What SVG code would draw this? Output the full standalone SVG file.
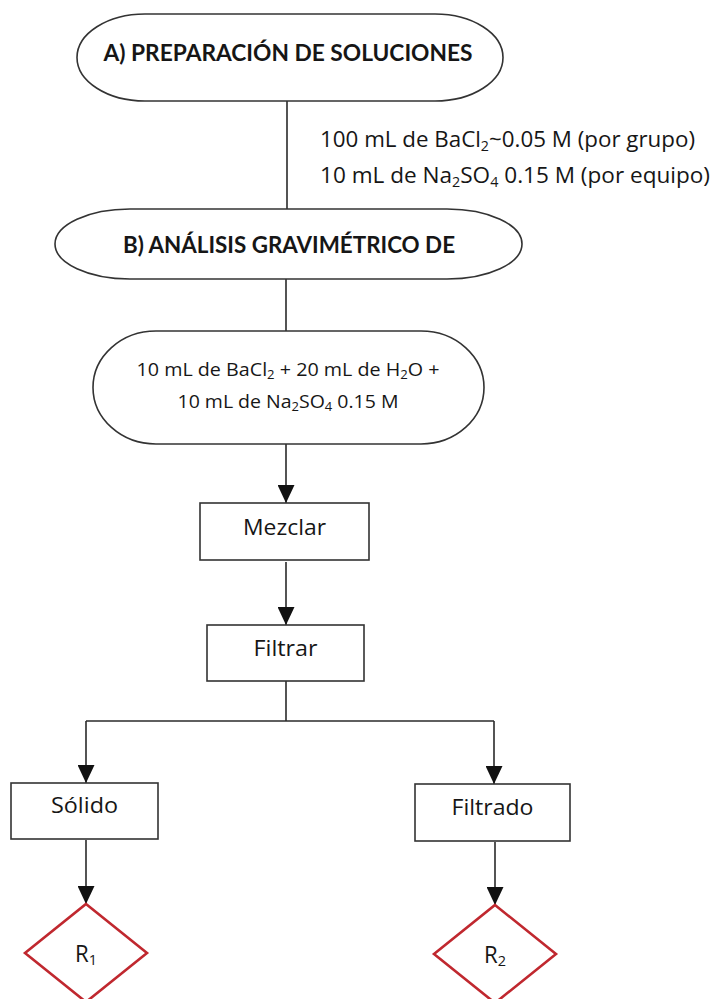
<svg xmlns="http://www.w3.org/2000/svg" width="714" height="999" viewBox="0 0 714 999">
  <style>
    .shape { fill: #ffffff; stroke: #333333; stroke-width: 1.6; }
    .result { fill: #ffffff; stroke: #c0282f; stroke-width: 2.6; }
    .wire { fill: none; stroke: #2a2a2a; stroke-width: 1.6; }
    .arrow { fill: none; stroke: #2a2a2a; stroke-width: 1.6; marker-end: url(#head); }
    text { font-family: "Open Sans", "Liberation Sans", Arial, sans-serif; fill: #161616; }
    .title { font-family: Lato, "Liberation Sans", Arial, sans-serif; font-size: 23px; font-weight: bold; text-anchor: middle; }
    .note { font-size: 22px; }
    .body { font-size: 18px; text-anchor: middle; }
    .label { font-size: 21px; text-anchor: middle; }
    .mark { font-size: 23px; text-anchor: middle; }
  </style>
  <defs>
    <marker id="head" markerUnits="userSpaceOnUse" markerWidth="18" markerHeight="17" refX="18" refY="8.5" orient="auto">
      <path d="M0,0 L18,8.5 L0,17 z" fill="#111111"/>
    </marker>
  </defs>

  <rect width="714" height="999" fill="#ffffff"/>

  <!-- connectors -->
  <g id="connectors">
    <line class="wire" x1="287" y1="101" x2="287" y2="209"/>
    <line class="wire" x1="286" y1="279" x2="286" y2="331"/>
    <line class="arrow" x1="286" y1="444" x2="286" y2="503"/>
    <line class="arrow" x1="286" y1="562" x2="286" y2="625"/>
    <polyline class="wire" points="286,681 286,721"/>
    <line class="wire" x1="86" y1="721" x2="494" y2="721"/>
    <line class="arrow" x1="86" y1="721" x2="86" y2="783"/>
    <line class="arrow" x1="494" y1="721" x2="494" y2="784"/>
    <line class="arrow" x1="86" y1="840" x2="86" y2="904"/>
    <line class="arrow" x1="495" y1="842" x2="495" y2="905"/>
  </g>

  <!-- A) solution preparation -->
  <g id="prep">
    <rect class="shape" x="77" y="14" width="426" height="87" rx="68" ry="43.5"/>
    <text class="title" x="288" y="61" textLength="369" lengthAdjust="spacingAndGlyphs">A) PREPARACIÓN DE SOLUCIONES</text>
  </g>

  <!-- quantities beside the first link -->
  <g id="quantities">
    <text class="note" x="320" y="147" textLength="375" lengthAdjust="spacingAndGlyphs">100 mL de BaCl<tspan font-size="14" dy="4">2</tspan><tspan dy="-4">~0.05 M (por grupo)</tspan></text>
    <text class="note" x="320" y="183" textLength="390" lengthAdjust="spacingAndGlyphs">10 mL de Na<tspan font-size="14" dy="4">2</tspan><tspan dy="-4">SO</tspan><tspan font-size="14" dy="4">4</tspan><tspan dy="-4"> 0.15 M (por equipo)</tspan></text>
  </g>

  <!-- B) gravimetric analysis -->
  <g id="analysis">
    <rect class="shape" x="55" y="209" width="467" height="70" rx="75" ry="35"/>
    <text class="title" x="289" y="253" textLength="332" lengthAdjust="spacingAndGlyphs">B) ANÁLISIS GRAVIMÉTRICO DE</text>
  </g>

  <!-- reagent mixture -->
  <g id="mixture">
    <rect class="shape" x="93" y="331" width="391" height="113" rx="63" ry="56.5"/>
    <text class="body" x="288" y="376" textLength="303" lengthAdjust="spacingAndGlyphs">10 mL de BaCl<tspan font-size="12" dy="3">2</tspan><tspan dy="-3"> + 20 mL de H</tspan><tspan font-size="12" dy="3">2</tspan><tspan dy="-3">O +</tspan></text>
    <text class="body" x="288" y="408" textLength="221" lengthAdjust="spacingAndGlyphs">10 mL de Na<tspan font-size="12" dy="3">2</tspan><tspan dy="-3">SO</tspan><tspan font-size="12" dy="3">4</tspan><tspan dy="-3"> 0.15 M</tspan></text>
  </g>

  <g id="mezclar">
    <rect class="shape" x="200" y="503" width="169" height="57"/>
    <text class="label" x="284.5" y="535" textLength="83" lengthAdjust="spacingAndGlyphs">Mezclar</text>
  </g>

  <g id="filtrar">
    <rect class="shape" x="207" y="625" width="157" height="56"/>
    <text class="label" x="285.5" y="656" textLength="64" lengthAdjust="spacingAndGlyphs">Filtrar</text>
  </g>

  <g id="solido">
    <rect class="shape" x="11" y="783" width="147" height="56"/>
    <text class="label" x="84.5" y="813" textLength="67" lengthAdjust="spacingAndGlyphs">Sólido</text>
  </g>

  <g id="filtrado">
    <rect class="shape" x="415" y="784" width="155" height="57"/>
    <text class="label" x="492.5" y="815" textLength="82" lengthAdjust="spacingAndGlyphs">Filtrado</text>
  </g>

  <g id="r1">
    <polygon class="result" points="86,904 147,953 86,1002 25,953"/>
    <text class="mark" x="86" y="962" textLength="22" lengthAdjust="spacingAndGlyphs">R<tspan font-size="15" dy="3">1</tspan></text>
  </g>

  <g id="r2">
    <polygon class="result" points="495,905 556,954 495,1003 434,954"/>
    <text class="mark" x="495" y="963" textLength="22" lengthAdjust="spacingAndGlyphs">R<tspan font-size="15" dy="3">2</tspan></text>
  </g>
</svg>
